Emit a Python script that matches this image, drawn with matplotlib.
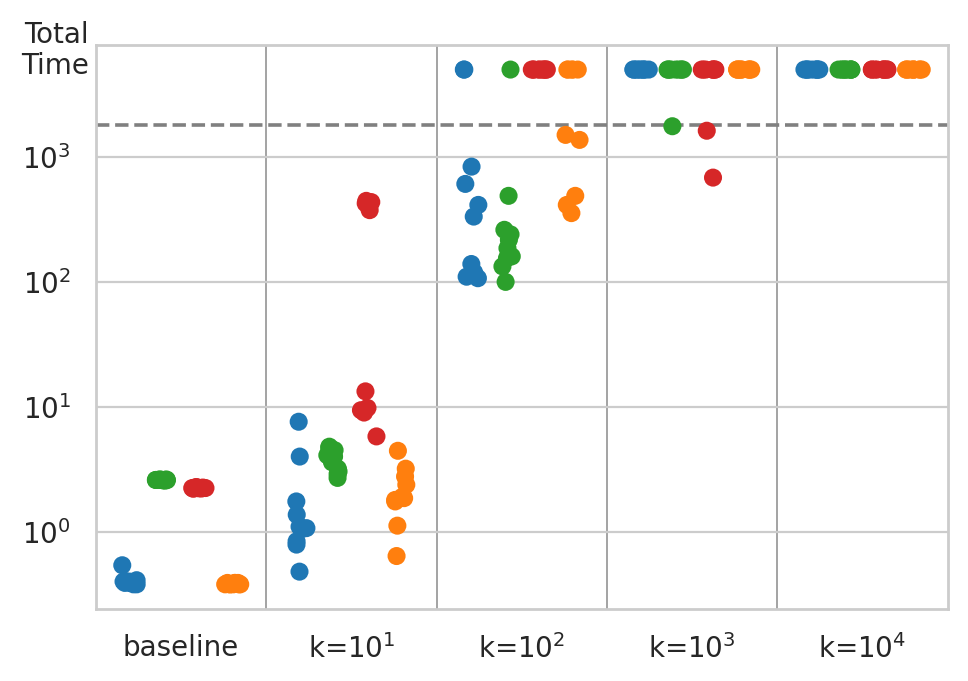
import numpy as np
import pandas as pd
import matplotlib
matplotlib.use("Agg")
import matplotlib.pyplot as plt
import seaborn as sns

# settings on the x axis
settings = ["baseline", "k=$10^1$", "k=$10^2$", "k=$10^3$", "k=$10^4$"]
methods = ["m1", "m2", "m3", "m4"]
colors = ["#1f77b4", "#2ca02c", "#d62728", "#ff7f0e"]

TIMEOUT = 5000   # runs that did not finish
LIMIT = 1800     # time limit (dashed line)

# total time per run, one sublist per setting
blue_times = [
    [0.39, 0.38, 0.40, 0.39, 0.41, 0.38, 0.40, 0.39, 0.54, 0.40],
    [7.6, 4.0, 1.75, 1.37, 1.10, 1.07, 1.05, 0.84, 0.79, 0.48],
    [TIMEOUT, TIMEOUT, 836, 608, 413, 333, 139, 119, 110, 107],
    [TIMEOUT] * 10,
    [TIMEOUT] * 10,
]
green_times = [
    [2.60, 2.58, 2.62, 2.60, 2.59, 2.61, 2.60, 2.57, 2.63, 2.60],
    [4.8, 4.7, 4.5, 4.1, 4.0, 3.6, 3.2, 3.04, 2.9, 2.7],
    [TIMEOUT, 488, 261, 240, 217, 186, 160, 155, 133, 100],
    [TIMEOUT] * 9 + [1760],
    [TIMEOUT] * 10,
]
red_times = [
    [2.25, 2.22, 2.27, 2.24, 2.23, 2.26, 2.25, 2.21, 2.28, 2.24],
    [445, 435, 425, 375, 13.3, 9.8, 9.4, 9.0, 5.8],
    [TIMEOUT] * 10,
    [TIMEOUT] * 8 + [1620, 683],
    [TIMEOUT] * 10,
]
orange_times = [
    [0.38, 0.39, 0.38, 0.39, 0.38, 0.38, 0.39, 0.38, 0.38, 0.39],
    [4.45, 3.2, 2.77, 2.38, 1.9, 1.86, 1.8, 1.75, 1.12, 0.64],
    [TIMEOUT] * 5 + [1500, 1368, 488, 413, 355],
    [TIMEOUT] * 10,
    [TIMEOUT] * 10,
]

rows = []
for method, times in zip(methods, [blue_times, green_times, red_times, orange_times]):
    for setting, vals in zip(settings, times):
        for v in vals:
            rows.append({"setting": setting, "method": method, "time": v})
df = pd.DataFrame(rows)

sns.set_theme(style="whitegrid")
plt.rcParams["font.family"] = ["DejaVu Sans"]

np.random.seed(3)
fig, ax = plt.subplots(figsize=(4.84, 3.405), dpi=200)
fig.subplots_adjust(left=0.099, right=0.979, top=0.934, bottom=0.106)

sns.stripplot(data=df, x="setting", y="time", hue="method", order=settings,
              hue_order=methods, palette=colors, dodge=True, jitter=0.2,
              size=6.5, linewidth=0, legend=False, ax=ax)
ax.set_yscale("log")
ax.set_ylim(0.242, 7870)
ax.set_xlim(-0.5, 4.5)

for i in range(len(settings) - 1):
    ax.axvline(i + 0.5, color="0.58", lw=0.6, zorder=0)
ax.axhline(LIMIT, color="gray", ls="--", lw=1.3, zorder=0)

ax.xaxis.grid(False)
ax.yaxis.grid(True, which="major", color="0.8", lw=0.8)
for s in ax.spines.values():
    s.set_color("0.8")
    s.set_linewidth(1.0)

ax.tick_params(axis="both", which="both", length=0, labelsize=10, colors="0.15")
ax.tick_params(axis="x", pad=9)
ax.tick_params(axis="y", pad=9)
ax.set_xlabel("")
ax.set_ylabel("Total\nTime", rotation=0, ha="right", va="center", fontsize=10,
              color="0.15", linespacing=1.1)
ax.yaxis.set_label_coords(-0.008, 0.99)

fig.savefig("out.png", dpi=200)
